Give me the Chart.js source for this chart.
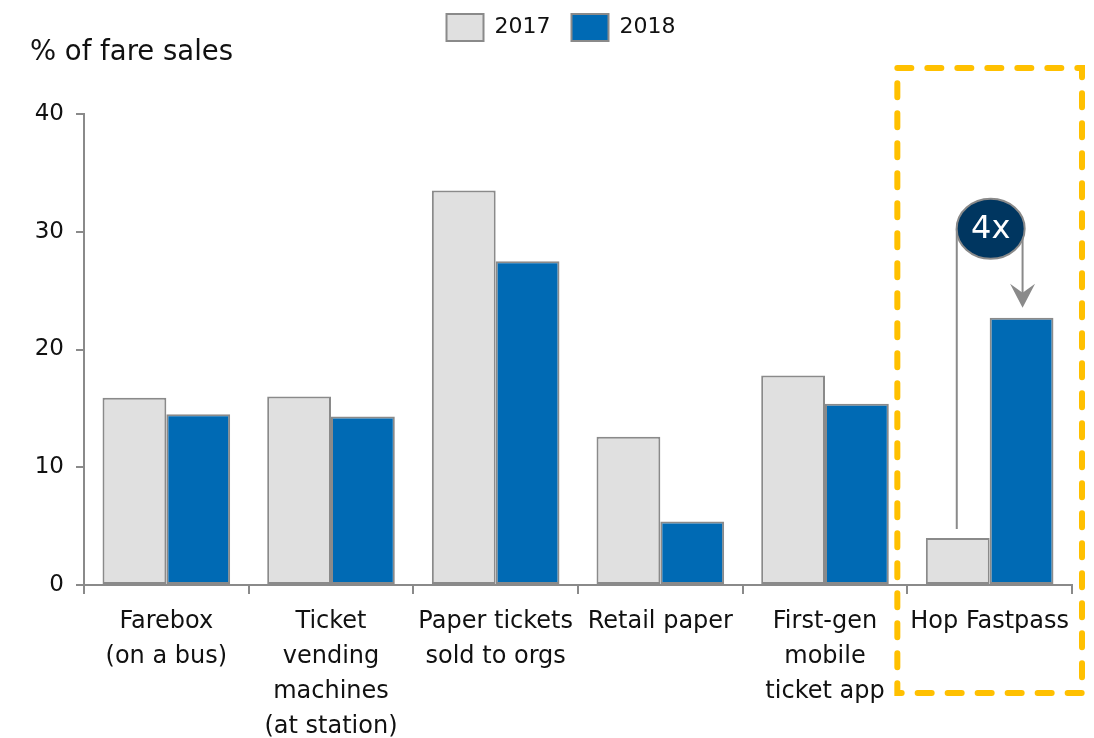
<!DOCTYPE html>
<html><head><meta charset="utf-8">
<script src="https://cdn.jsdelivr.net/npm/chart.js@4.4.1/dist/chart.umd.min.js"></script>
<style>html,body{margin:0;padding:0;background:#fff}#wrap{width:1094px;height:738px}</style>
</head><body><div id="wrap"><canvas id="c" width="1094" height="738"></canvas></div>
<script>
const categories = [
  ["Farebox", "(on a bus)"],
  ["Ticket", "vending", "machines", "(at station)"],
  ["Paper tickets", "sold to orgs"],
  ["Retail paper"],
  ["First-gen", "mobile", "ticket app"],
  ["Hop Fastpass"]
];
const seriesNames = ["2017", "2018"];
const values2017 = [15.9, 16.0, 33.5, 12.6, 17.8, 4.0];
const values2018 = [14.5, 14.3, 27.5, 5.4, 15.4, 22.7];
const yTicks = [0, 10, 20, 30, 40];
const axisTitle = "% of fare sales";
const calloutText = "4x";

const FONT = "'DejaVu Sans', sans-serif";
const GRAY = '#8a8a8a';

const legendSpace = {
  id: 'legendSpace',
  beforeInit(chart) {
    const lg = chart.legend;
    const orig = lg.fit;
    lg.fit = function () { orig.call(this); this.height += 53; };
  },
  afterLayout(chart) {
    const lg = chart.legend;
    lg.left += 25; lg.right += 25;
    lg.top -= 10; lg.bottom -= 10;
  }
};

const overlay = {
  id: 'overlay',
  afterDraw(chart) {
    const ctx = chart.ctx, x = chart.scales.x, y = chart.scales.y;
    const ca = chart.chartArea;
    ctx.save();
    // axis title
    ctx.fillStyle = '#111';
    ctx.font = "27.5px " + FONT;
    ctx.textAlign = 'left'; ctx.textBaseline = 'middle';
    ctx.fillText(axisTitle, 30, 53);
    // highlight box around last category
    const last = categories.length - 1;
    const cx = x.getPixelForValue(last);
    const half = (x.getPixelForValue(1) - x.getPixelForValue(0)) / 2;
    ctx.strokeStyle = '#FFC000';
    ctx.lineWidth = 6;
    ctx.lineCap = 'round';
    ctx.setLineDash([14, 16]);
    ctx.beginPath();
    const bx0 = cx - half - 10, bx1 = cx + half + 10;
    const by0 = y.getPixelForValue(40) - 46, by1 = ca.bottom + 108;
    ctx.moveTo(bx0, by0); ctx.lineTo(bx1, by0); ctx.lineTo(bx1, by1); ctx.lineTo(bx0, by1); ctx.closePath();
    ctx.stroke();
    ctx.setLineDash([]);
    // callout
    const meta0 = chart.getDatasetMeta(0).data[last];
    const meta1 = chart.getDatasetMeta(1).data[last];
    const ex = cx + 1, ey = y.getPixelForValue(30.25);
    const lx = meta0.x - 1, rx = meta1.x + 1;
    ctx.strokeStyle = GRAY; ctx.lineWidth = 2; ctx.lineCap = 'butt';
    ctx.beginPath();
    ctx.moveTo(lx, ey); ctx.lineTo(lx, y.getPixelForValue(values2017[last]) - 9);
    ctx.moveTo(rx, ey); ctx.lineTo(rx, y.getPixelForValue(values2018[last]) - 22);
    ctx.stroke();
    ctx.fillStyle = GRAY;
    const tip = y.getPixelForValue(values2018[last]) - 10;
    ctx.beginPath();
    ctx.moveTo(rx, tip); ctx.lineTo(rx - 12.5, tip - 24); ctx.lineTo(rx, tip - 15); ctx.lineTo(rx + 12.5, tip - 24); ctx.closePath();
    ctx.fill();
    ctx.beginPath();
    ctx.ellipse(ex, ey, 34, 30, 0, 0, Math.PI * 2);
    ctx.fillStyle = '#003660'; ctx.fill();
    ctx.strokeStyle = GRAY; ctx.lineWidth = 2; ctx.stroke();
    ctx.fillStyle = '#fff';
    ctx.font = "32px " + FONT;
    ctx.textAlign = 'center'; ctx.textBaseline = 'middle';
    ctx.fillText(calloutText, ex, ey + 1);
    ctx.restore();
  }
};

new Chart(document.getElementById('c'), {
  type: 'bar',
  data: {
    labels: categories,
    datasets: [
      { label: seriesNames[0], data: values2017, backgroundColor: '#e0e0e0', borderColor: GRAY, borderWidth: 2, borderSkipped: false },
      { label: seriesNames[1], data: values2018, backgroundColor: '#006ab4', borderColor: GRAY, borderWidth: 2, borderSkipped: false }
    ]
  },
  options: {
    responsive: false,
    animation: false,
    devicePixelRatio: 1,
    categoryPercentage: 0.775,
    barPercentage: 1,
    layout: { padding: { left: 0, right: 22, top: 3, bottom: 0 } },
    plugins: {
      legend: {
        position: 'top',
        labels: {
          boxWidth: 37, boxHeight: 27, padding: 21,
          color: '#111', font: { family: FONT, size: 22 }
        }
      },
      tooltip: { enabled: false }
    },
    scales: {
      x: {
        offset: true,
        grid: { offset: true, drawOnChartArea: false, drawTicks: true, tickLength: 9, color: GRAY, lineWidth: 2 },
        border: { display: true, color: GRAY, width: 2 },
        ticks: { color: '#111', font: { family: FONT, size: 24, lineHeight: 1.46 }, padding: 10, maxRotation: 0, autoSkip: false },
        afterFit(s) { s.height = 153; }
      },
      y: {
        min: 0, max: 40,
        afterBuildTicks(s) { s.ticks = yTicks.map(v => ({ value: v })); },
        grid: { drawOnChartArea: false, drawTicks: true, tickLength: 8, color: GRAY, lineWidth: 2 },
        border: { display: true, color: GRAY, width: 2 },
        ticks: { color: '#111', font: { family: FONT, size: 23 }, padding: 12 },
        afterFit(s) { s.width = 84; }
      }
    }
  },
  plugins: [legendSpace, overlay]
});
</script></body></html>
